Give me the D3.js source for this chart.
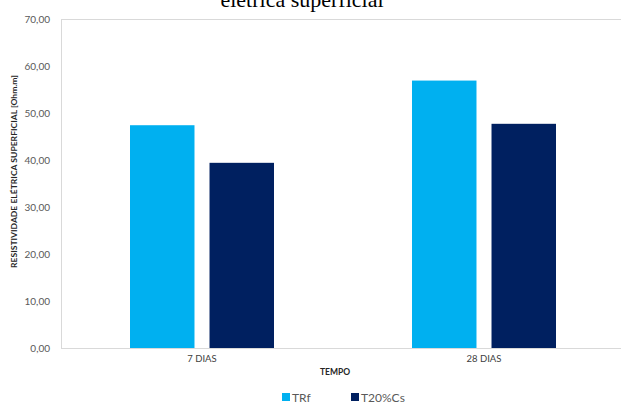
<!DOCTYPE html>
<html>
<head>
<meta charset="utf-8">
<script src="https://cdn.jsdelivr.net/npm/d3@7"></script>
<style>
  html, body { margin: 0; padding: 0; background: #fff; }
  svg { display: block; }
</style>
</head>
<body>
<svg id="chart" width="621" height="403"></svg>
<script>
const categories = ["7 DIAS", "28 DIAS"];
const seriesNames = ["TRf", "T20%Cs"];
const trfValues = [47.4, 56.9];
const t20Values = [39.4, 47.7];
const yTicks = [0, 10, 20, 30, 40, 50, 60, 70];
const colors = ["#00B0F0", "#002060"];
const titleText = "elétrica superficial";
const yTitle = "RESISTIVIDADE ELÉTRICA SUPERFICIAL [Ohm.m]";
const xTitle = "TEMPO";

const data = categories.map((c, i) => ({ cat: c, vals: [trfValues[i], t20Values[i]] }));

const svg = d3.select("#chart");
const font = "Lato, 'Open Sans', sans-serif";
const pLeft = 61, pRight = 625, pTop = 19, pBottom = 348;

const y = d3.scaleLinear().domain([0, 70]).range([pBottom, pTop]);
const x0 = d3.scaleBand().domain(categories).range([pLeft, pRight]).paddingInner(0.4894).paddingOuter(0.2447);
const x1 = d3.scaleBand().domain(seriesNames).range([0, x0.bandwidth()]).paddingInner(0.189);

// title (cropped at the top, as in the source)
svg.append("text").attr("x", 302).attr("y", 7).attr("text-anchor", "middle")
  .attr("font-family", "'Liberation Serif', 'Times New Roman', serif").attr("font-size", 22)
  .attr("fill", "#000").text(titleText);

// plot border (top & left)
svg.append("line").attr("x1", pLeft).attr("x2", 621).attr("y1", pTop + 0.5).attr("y2", pTop + 0.5)
  .attr("stroke", "#d9d9d9").attr("stroke-width", 1);
svg.append("line").attr("x1", pLeft + 0.5).attr("x2", pLeft + 0.5).attr("y1", pTop).attr("y2", pBottom)
  .attr("stroke", "#d9d9d9").attr("stroke-width", 1);

// bars
const g = svg.append("g");
data.forEach(d => {
  d.vals.forEach((v, j) => {
    g.append("rect")
      .attr("x", x0(d.cat) + x1(seriesNames[j]))
      .attr("y", y(v))
      .attr("width", x1.bandwidth())
      .attr("height", y(0) - y(v))
      .attr("fill", colors[j]);
  });
});

// x axis line
svg.append("line").attr("x1", pLeft).attr("x2", 621).attr("y1", pBottom + 0.5).attr("y2", pBottom + 0.5)
  .attr("stroke", "#d9d9d9").attr("stroke-width", 1);

// y axis labels
const yAxis = d3.axisLeft(y).tickValues(yTicks).tickSize(0).tickPadding(0)
  .tickFormat(d => d3.format(".2f")(d).replace(".", ","));
const ya = svg.append("g").attr("transform", `translate(${50},0)`).call(yAxis);
ya.select(".domain").remove();
ya.selectAll("text").attr("font-family", font).attr("font-size", 10).attr("fill", "#595959");

// x axis labels
const xAxis = d3.axisBottom(x0).tickSize(0).tickPadding(0);
const xa = svg.append("g").attr("transform", `translate(0,${355})`).call(xAxis);
xa.select(".domain").remove();
xa.selectAll("text").attr("font-family", font).attr("font-size", 9.5).attr("fill", "#404040");

// axis titles
svg.append("text").attr("x", 335).attr("y", 375).attr("text-anchor", "middle")
  .attr("font-family", font).attr("font-size", 8.5).attr("font-weight", "bold").attr("fill", "#262626")
  .text(xTitle);
svg.append("text").attr("transform", `translate(17,171.5) rotate(-90)`).attr("text-anchor", "middle")
  .attr("font-family", font).attr("font-size", 8).attr("font-weight", "bold").attr("fill", "#262626")
  .attr("textLength", 193).attr("lengthAdjust", "spacingAndGlyphs")
  .text(yTitle);

// legend
const legendX = [282, 351];
seriesNames.forEach((s, i) => {
  svg.append("rect").attr("x", legendX[i]).attr("y", 393).attr("width", 8).attr("height", 8).attr("fill", colors[i]);
  svg.append("text").attr("x", legendX[i] + 10).attr("y", 401.5)
    .attr("font-family", font).attr("font-size", 12).attr("fill", "#595959").text(s);
});
</script>
</body>
</html>
